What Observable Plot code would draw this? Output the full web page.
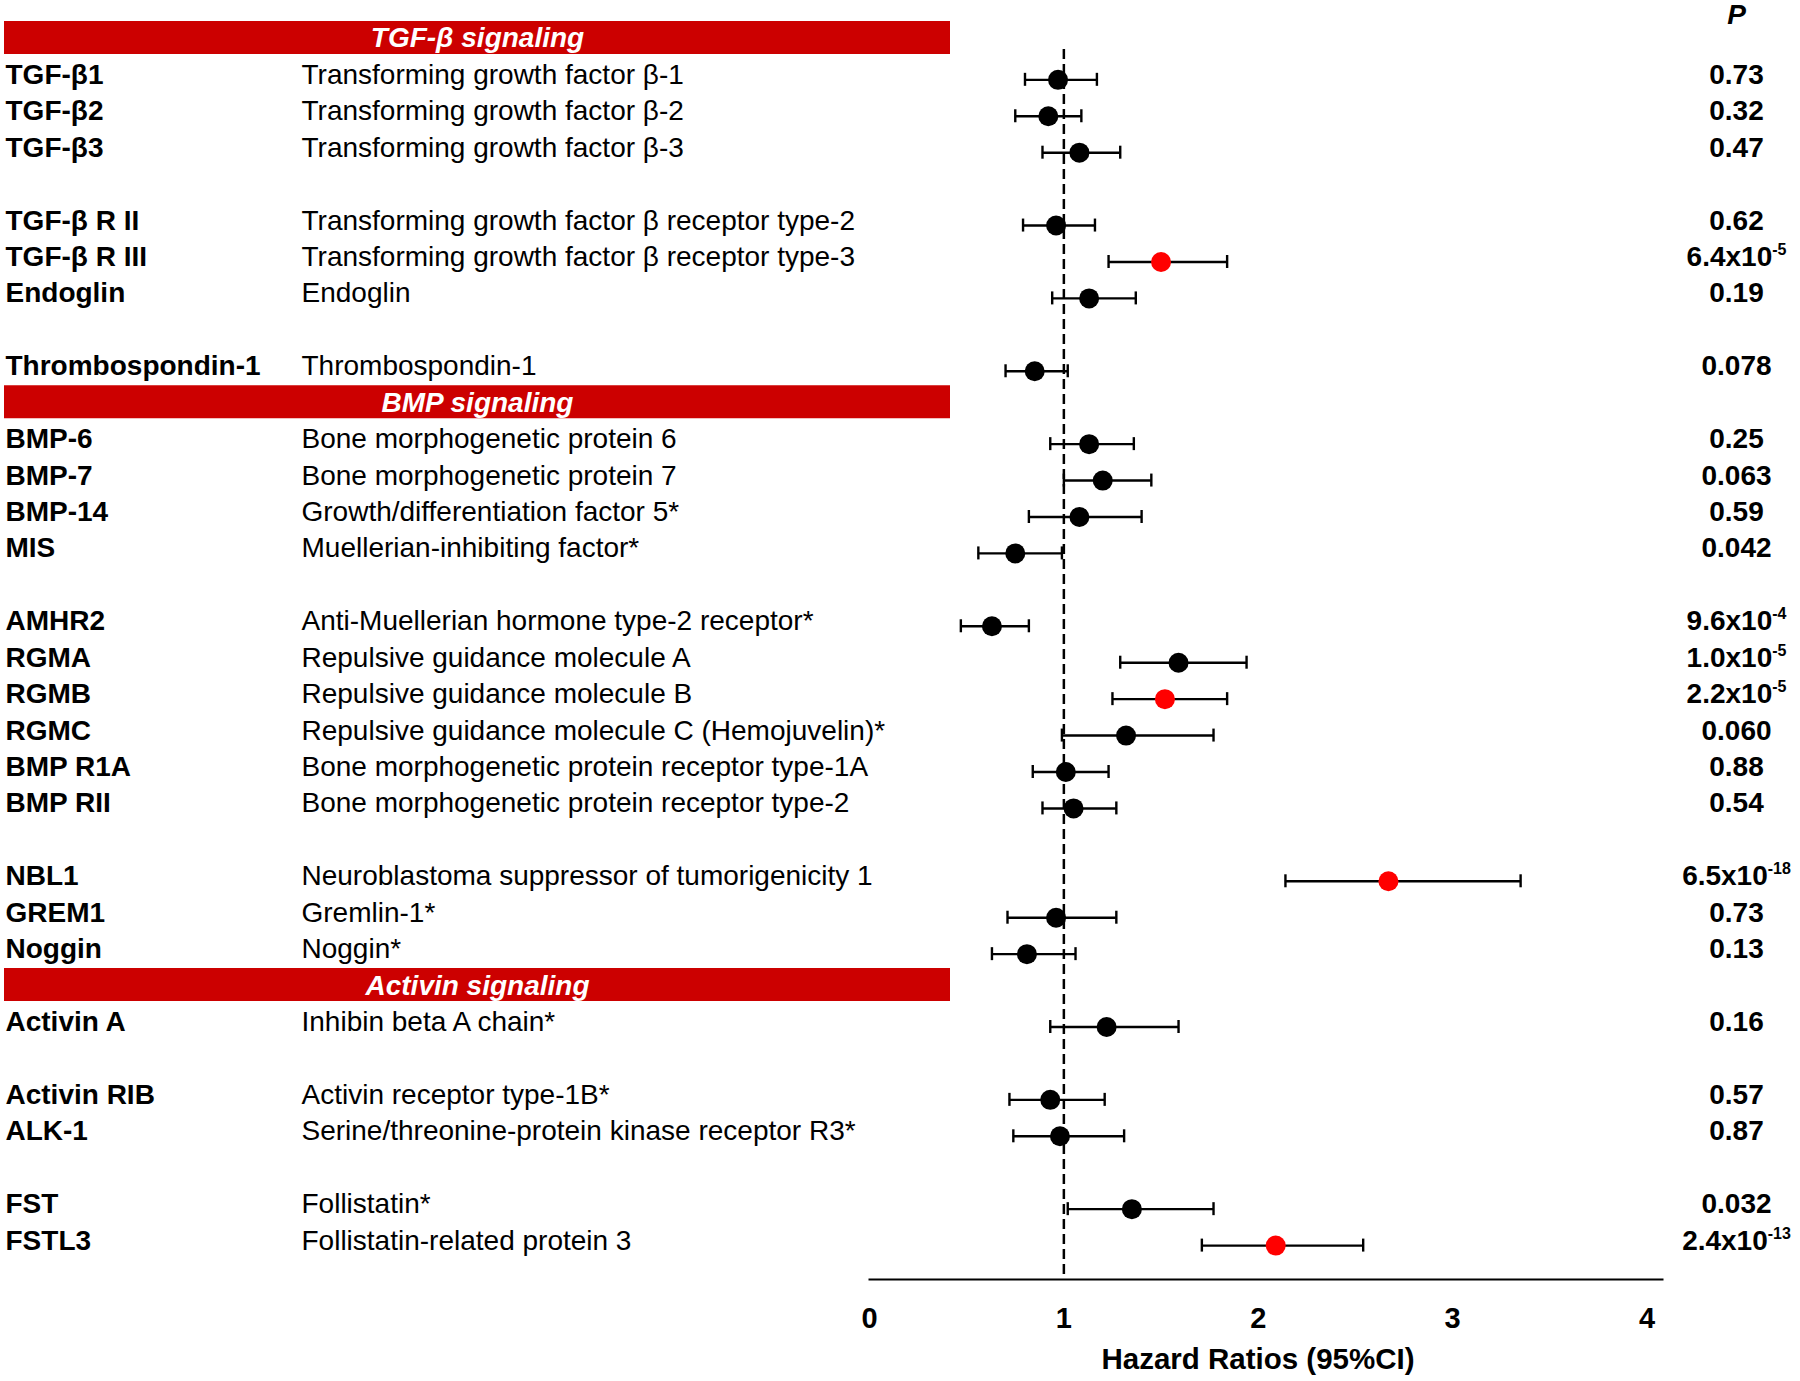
<!DOCTYPE html>
<html>
<head>
<meta charset="utf-8">
<script src="https://cdn.jsdelivr.net/npm/d3@7"></script>
<script src="https://cdn.jsdelivr.net/npm/@observablehq/plot@0.6"></script>
<style>
  html, body { margin: 0; padding: 0; background: #fff; overflow: hidden; }
  #chart svg { display: block; }
</style>
</head>
<body>
<div id="chart"></div>
<script>
// ---- Data ----
const headers = ["TGF-β signaling", "BMP signaling", "Activin signaling"];

// vertical order of rows (section headers, markers, blank spacer rows)
const slotOrder = [
  "TGF-β signaling", "TGF-β1", "TGF-β2", "TGF-β3", "gap-1",
  "TGF-β R II", "TGF-β R III", "Endoglin", "gap-2",
  "Thrombospondin-1",
  "BMP signaling", "BMP-6", "BMP-7", "BMP-14", "MIS", "gap-3",
  "AMHR2", "RGMA", "RGMB", "RGMC", "BMP R1A", "BMP RII", "gap-4",
  "NBL1", "GREM1", "Noggin",
  "Activin signaling", "Activin A", "gap-5",
  "Activin RIB", "ALK-1", "gap-6",
  "FST", "FSTL3"
];

const symbols = [
  "TGF-β1", "TGF-β2", "TGF-β3", "TGF-β R II", "TGF-β R III", "Endoglin",
  "Thrombospondin-1", "BMP-6", "BMP-7", "BMP-14", "MIS", "AMHR2", "RGMA",
  "RGMB", "RGMC", "BMP R1A", "BMP RII", "NBL1", "GREM1", "Noggin",
  "Activin A", "Activin RIB", "ALK-1", "FST", "FSTL3"
];

const names = [
  "Transforming growth factor β-1",
  "Transforming growth factor β-2",
  "Transforming growth factor β-3",
  "Transforming growth factor β receptor type-2",
  "Transforming growth factor β receptor type-3",
  "Endoglin",
  "Thrombospondin-1",
  "Bone morphogenetic protein 6",
  "Bone morphogenetic protein 7",
  "Growth/differentiation factor 5*",
  "Muellerian-inhibiting factor*",
  "Anti-Muellerian hormone type-2 receptor*",
  "Repulsive guidance molecule A",
  "Repulsive guidance molecule B",
  "Repulsive guidance molecule C (Hemojuvelin)*",
  "Bone morphogenetic protein receptor type-1A",
  "Bone morphogenetic protein receptor type-2",
  "Neuroblastoma suppressor of tumorigenicity 1",
  "Gremlin-1*",
  "Noggin*",
  "Inhibin beta A chain*",
  "Activin receptor type-1B*",
  "Serine/threonine-protein kinase receptor R3*",
  "Follistatin*",
  "Follistatin-related protein 3"
];

const hazardRatio = [0.97, 0.92, 1.08, 0.96, 1.50, 1.13, 0.85, 1.13, 1.20, 1.08, 0.75, 0.63, 1.59,
                     1.52, 1.32, 1.01, 1.05, 2.67, 0.96, 0.81, 1.22, 0.93, 0.98, 1.35, 2.09];
const ciLow      = [0.80, 0.75, 0.89, 0.79, 1.23, 0.94, 0.70, 0.93, 1.00, 0.82, 0.56, 0.47, 1.29,
                     1.25, 0.99, 0.84, 0.89, 2.14, 0.71, 0.63, 0.93, 0.72, 0.74, 1.02, 1.71];
const ciHigh     = [1.17, 1.09, 1.29, 1.16, 1.84, 1.37, 1.02, 1.36, 1.45, 1.40, 0.99, 0.82, 1.94,
                     1.84, 1.77, 1.23, 1.27, 3.35, 1.27, 1.06, 1.59, 1.21, 1.31, 1.77, 2.54];

const pValues = [
  "0.73", "0.32", "0.47", "0.62", "6.4x10^-5", "0.19", "0.078", "0.25", "0.063", "0.59",
  "0.042", "9.6x10^-4", "1.0x10^-5", "2.2x10^-5", "0.060", "0.88", "0.54", "6.5x10^-18",
  "0.73", "0.13", "0.16", "0.57", "0.87", "0.032", "2.4x10^-13"
];

const highlighted = ["TGF-β R III", "RGMB", "NBL1", "FSTL3"];
const xTicks = [0, 1, 2, 3, 4];

// ---- Table for the library ----
const rows = symbols.map((s, i) => ({
  symbol: s, name: names[i], hr: hazardRatio[i], lo: ciLow[i], hi: ciHigh[i],
  p: pValues[i], hot: highlighted.includes(s)
}));

const W = 1800, H = 1381;
const mL = 869, mR = 138;
const frameR = W - mR;
const step = 36.43, firstCenter = 42.9;
const capInset = (step - 13) / 2;

const chart = Plot.plot({
  width: W,
  height: H,
  marginLeft: mL,
  marginRight: mR,
  marginTop: 49,
  marginBottom: 102,
  style: { fontFamily: "'Liberation Sans', Arial, Helvetica, sans-serif", fontSize: "28px", color: "#000", background: "#fff" },
  x: { domain: [0, 4.08] },
  y: { type: "band", domain: slotOrder, padding: 0, round: false,
       range: [firstCenter - step / 2, firstCenter + step * (slotOrder.length - 0.5)], axis: null },
  marks: [
    // section header bars
    Plot.ruleY(headers, { y: d => d, stroke: "#cc0000", strokeWidth: 33, dy: -6, insetLeft: -(mL - 4), insetRight: frameR - 950 }),
    Plot.text(headers, { y: d => d, text: d => d, frameAnchor: "left", textAnchor: "middle", dx: 477 - mL,
      lineAnchor: "bottom", dy: 4, fill: "#fff", fontWeight: "bold", fontStyle: "italic" }),
    // reference line at HR = 1
    Plot.ruleX([1], { stroke: "#000", strokeWidth: 2.5, strokeDasharray: "10,5" }),
    // x axis baseline
    Plot.frame({ anchor: "bottom", stroke: "#000", strokeWidth: 2 }),
    Plot.axisX({ ticks: xTicks, tickFormat: d3.format("d"), tickSize: 0, tickPadding: 28, fontWeight: "bold", fontSize: 29, label: null }),
    Plot.text(["Hazard Ratios (95%CI)"], { frameAnchor: "bottom", lineAnchor: "bottom", dy: 89, dx: -8, fontWeight: "bold", fontSize: 29.5 }),
    // confidence intervals
    Plot.ruleY(rows, { y: "symbol", x1: "lo", x2: "hi", stroke: "#000", strokeWidth: 2.4 }),
    Plot.tickX(rows, { x: "lo", y: "symbol", stroke: "#000", strokeWidth: 2.4, insetTop: capInset, insetBottom: capInset }),
    Plot.tickX(rows, { x: "hi", y: "symbol", stroke: "#000", strokeWidth: 2.4, insetTop: capInset, insetBottom: capInset }),
    // point estimates
    Plot.dot(rows, { x: "hr", y: "symbol", r: 10, fill: d => d.hot ? "#ff0000" : "#000", stroke: "none" }),
    // left label columns
    Plot.text(rows, { y: "symbol", text: "symbol", frameAnchor: "left", textAnchor: "start", dx: 5 - mL,
      lineAnchor: "bottom", dy: 4, fontWeight: "bold" }),
    Plot.text(rows, { y: "symbol", text: "name", frameAnchor: "left", textAnchor: "start", dx: 301 - mL,
      lineAnchor: "bottom", dy: 4 }),
    // P column
    Plot.text(["P"], { frameAnchor: "top-right", textAnchor: "middle", dx: 1736 - frameR, lineAnchor: "bottom", dy: -26,
      fontWeight: "bold", fontStyle: "italic" }),
    Plot.text(rows, { y: "symbol", text: "p", frameAnchor: "right", textAnchor: "middle", dx: 1736 - frameR,
      lineAnchor: "bottom", dy: 4, fontWeight: "bold", className: "pvals" })
  ]
});

// render exponents as superscripts
chart.querySelectorAll(".pvals text").forEach(t => {
  const s = t.textContent;
  const k = s.indexOf("^");
  if (k < 0) return;
  t.textContent = s.slice(0, k);
  const sup = document.createElementNS("http://www.w3.org/2000/svg", "tspan");
  sup.setAttribute("dy", "-11");
  sup.setAttribute("font-size", "16px");
  sup.textContent = s.slice(k + 1);
  t.appendChild(sup);
});

document.getElementById("chart").appendChild(chart);
</script>
</body>
</html>
